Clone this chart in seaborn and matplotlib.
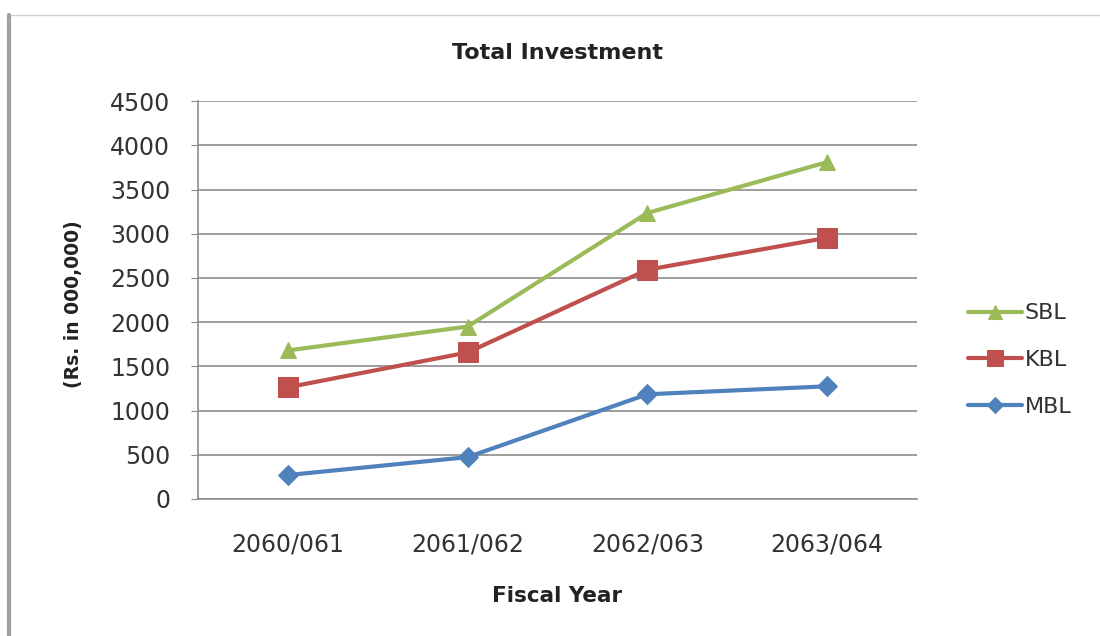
import matplotlib.pyplot as plt
import matplotlib.patches as mpatches
import pandas as pd
import seaborn as sns

# data
years = ["2060/061", "2061/062", "2062/063", "2063/064"]
sbl = [1680, 1950, 3235, 3810]
kbl = [1263, 1657, 2593, 2954]
mbl = [270, 473, 1184, 1274]

banks = ["SBL", "KBL", "MBL"]
colors = {"SBL": "#9BBB59", "KBL": "#C0504D", "MBL": "#4F81BD"}
markers = {"SBL": "^", "KBL": "s", "MBL": "D"}
msizes = {"SBL": 12, "KBL": 15, "MBL": 10}

df = pd.DataFrame({
    "Year": years * 3,
    "pos": list(range(len(years))) * 3,
    "Investment": sbl + kbl + mbl,
    "Bank": ["SBL"] * 4 + ["KBL"] * 4 + ["MBL"] * 4,
})

sns.set_style("white")
plt.rcParams["font.family"] = ["DejaVu Sans"]

fig = plt.figure(figsize=(11, 6.36), dpi=100)
ax = fig.add_axes([0.18, 0.2155, 0.6536, 0.6255])

for b in banks:
    sub = df[df["Bank"] == b]
    sns.lineplot(data=sub, x="pos", y="Investment", ax=ax, color=colors[b],
                 marker=markers[b], markersize=msizes[b], linewidth=3,
                 markeredgecolor=colors[b], label=b, legend=False)

ax.set_xlim(-0.5, 3.5)
ax.set_ylim(0, 4500)
ax.set_yticks(range(0, 4501, 500))
ax.set_xticks(range(len(years)))
ax.set_xticklabels(years)
ax.yaxis.grid(True, color="#8c8c8c", linewidth=1.2)
ax.set_axisbelow(True)
for s in ["top", "right"]:
    ax.spines[s].set_visible(False)
for s in ["left", "bottom"]:
    ax.spines[s].set_color("#8c8c8c")
    ax.spines[s].set_linewidth(1.2)
ax.tick_params(axis="y", left=True, length=5, color="#8c8c8c", labelsize=17,
               labelcolor="#333333", pad=15)
ax.tick_params(axis="x", bottom=False, labelsize=17, labelcolor="#333333", pad=21)

ax.set_title("Total Investment", fontsize=16, fontweight="bold", pad=30, color="#222222")
ax.set_xlabel("Fiscal Year", fontsize=15.5, fontweight="bold", color="#222222")
ax.set_ylabel("(Rs. in 000,000)", fontsize=13.5, fontweight="bold", color="#222222")
ax.xaxis.set_label_coords(0.5, -0.218)
ax.yaxis.set_label_coords(-0.16, 0.49)

handles, labels = ax.get_legend_handles_labels()
fig.legend(handles, labels, loc="center left", bbox_to_anchor=(0.862, 0.434),
           frameon=False, fontsize=16, handlelength=2.4, handletextpad=0.15,
           labelspacing=1.2, labelcolor="#333333", markerscale=0.8)

# chart border like the reference
fig.add_artist(mpatches.Rectangle((0.008, -0.01), 1.1, 0.987, transform=fig.transFigure,
                                  fill=False, edgecolor="#d0d0d0", linewidth=1))
fig.add_artist(plt.Line2D([0.008, 0.008], [-0.01, 0.977], transform=fig.transFigure,
                          color="#a0a0a0", linewidth=3))

fig.savefig("out.png", dpi=100)
